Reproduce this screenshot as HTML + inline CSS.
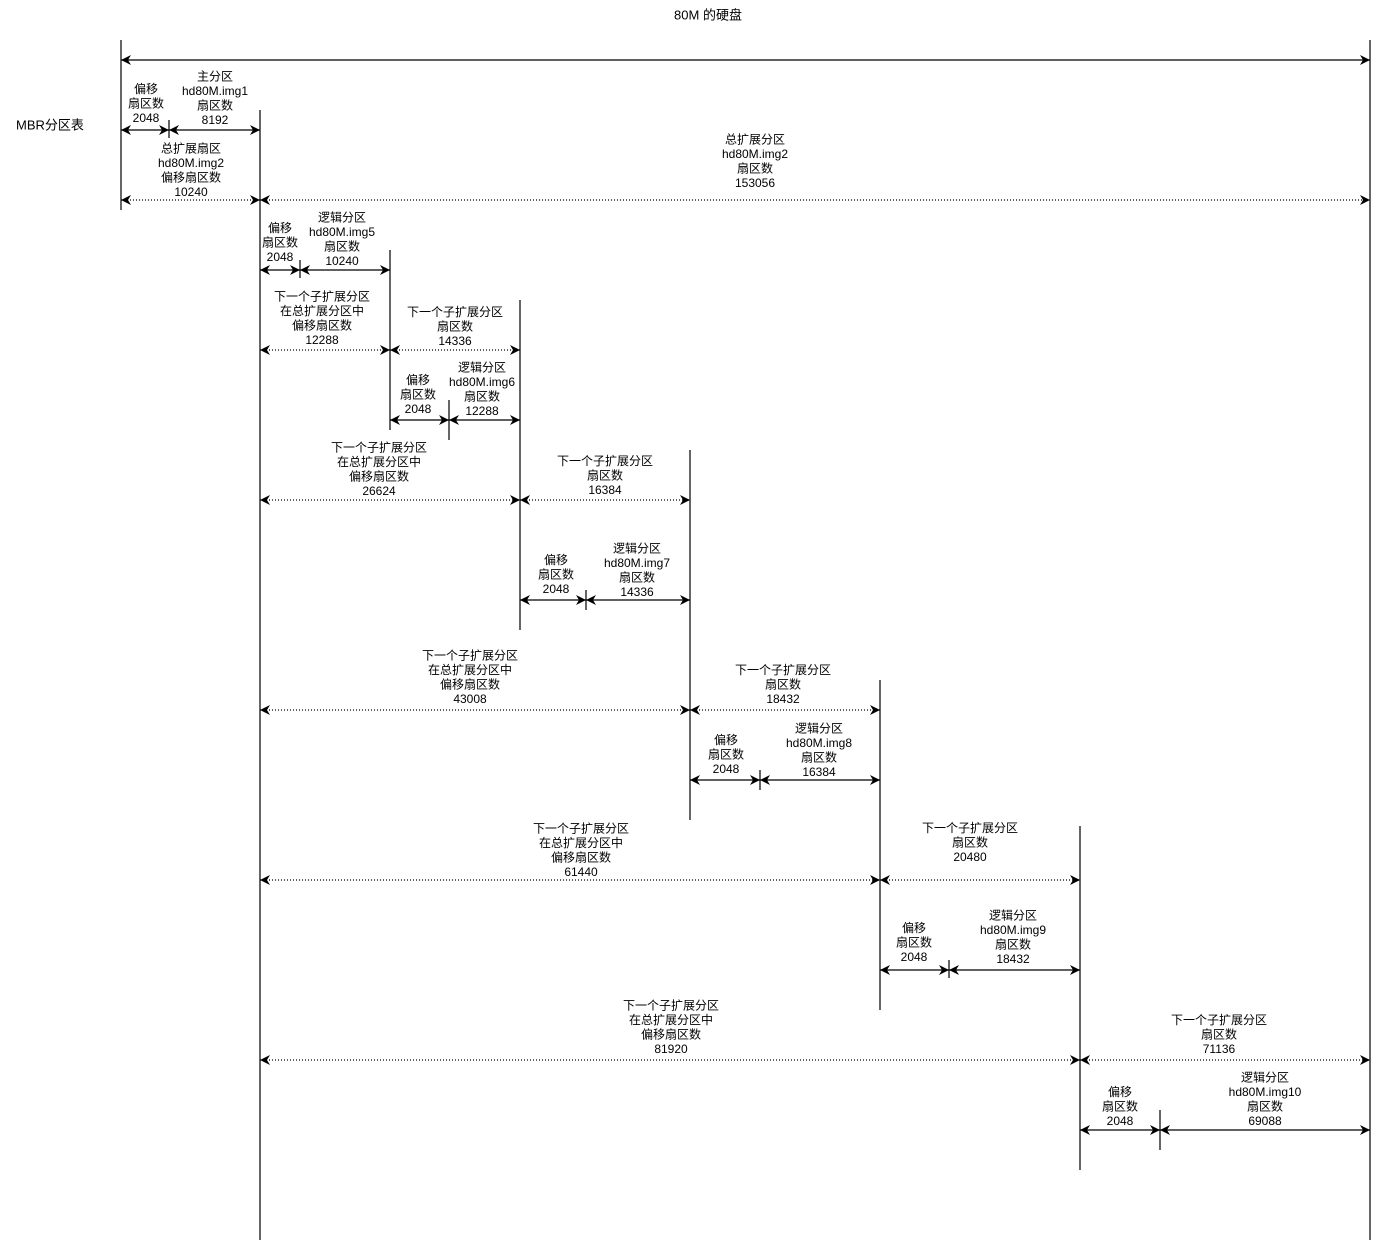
<!DOCTYPE html>
<html><head><meta charset="utf-8"><style>
html,body{margin:0;padding:0;background:#fff;}
svg{display:block;}
text{font-family:"Liberation Sans","Noto Sans CJK SC",sans-serif;font-size:12px;fill:#000;text-anchor:middle;dominant-baseline:central;}
</style></head><body>
<svg width="1380" height="1242" viewBox="0 0 1380 1242" xmlns="http://www.w3.org/2000/svg">
<defs>
<marker id="a" viewBox="0 0 10 10" refX="10" refY="5" markerWidth="10" markerHeight="10" markerUnits="userSpaceOnUse" orient="auto-start-reverse">
<path d="M0,0 L10,5 L0,10 L3,5 Z" fill="#000"/>
</marker>
</defs>
<g stroke="#000" stroke-width="1.2" fill="none">
<line x1="121" y1="40" x2="121" y2="210"/>
<line x1="1370" y1="40" x2="1370" y2="1240"/>
<line x1="260" y1="110" x2="260" y2="1240"/>
<line x1="169" y1="120" x2="169" y2="138"/>
<line x1="390" y1="250" x2="390" y2="430"/>
<line x1="300" y1="260" x2="300" y2="278"/>
<line x1="520" y1="300" x2="520" y2="630"/>
<line x1="449" y1="400" x2="449" y2="440"/>
<line x1="690" y1="450" x2="690" y2="820"/>
<line x1="586" y1="590" x2="586" y2="610"/>
<line x1="880" y1="680" x2="880" y2="1010"/>
<line x1="760" y1="770" x2="760" y2="790"/>
<line x1="1080" y1="826" x2="1080" y2="1170"/>
<line x1="949" y1="960" x2="949" y2="978"/>
<line x1="1160" y1="1110" x2="1160" y2="1150"/>
</g>
<g stroke="#000" stroke-width="1.2" marker-start="url(#a)" marker-end="url(#a)">
<line x1="121" y1="60" x2="1370" y2="60"/>
<line x1="121" y1="130" x2="169" y2="130"/>
<line x1="169" y1="130" x2="260" y2="130"/>
<line x1="260" y1="270" x2="300" y2="270"/>
<line x1="300" y1="270" x2="390" y2="270"/>
<line x1="390" y1="420" x2="449" y2="420"/>
<line x1="449" y1="420" x2="520" y2="420"/>
<line x1="520" y1="600" x2="586" y2="600"/>
<line x1="586" y1="600" x2="690" y2="600"/>
<line x1="690" y1="780" x2="760" y2="780"/>
<line x1="760" y1="780" x2="880" y2="780"/>
<line x1="880" y1="970" x2="949" y2="970"/>
<line x1="949" y1="970" x2="1080" y2="970"/>
<line x1="1080" y1="1130" x2="1160" y2="1130"/>
<line x1="1160" y1="1130" x2="1370" y2="1130"/>
</g>
<g stroke="#000" stroke-width="1.2" stroke-dasharray="1,2" marker-start="url(#a)" marker-end="url(#a)">
<line x1="121" y1="200" x2="260" y2="200"/>
<line x1="260" y1="200" x2="1370" y2="200"/>
<line x1="260" y1="350" x2="390" y2="350"/>
<line x1="390" y1="350" x2="520" y2="350"/>
<line x1="260" y1="500" x2="520" y2="500"/>
<line x1="520" y1="500" x2="690" y2="500"/>
<line x1="260" y1="710" x2="690" y2="710"/>
<line x1="690" y1="710" x2="880" y2="710"/>
<line x1="260" y1="880" x2="880" y2="880"/>
<line x1="880" y1="880" x2="1080" y2="880"/>
<line x1="260" y1="1060" x2="1080" y2="1060"/>
<line x1="1080" y1="1060" x2="1370" y2="1060"/>
</g>
<text x="708" y="15" style="font-size:13px">80M 的硬盘</text>
<text x="50" y="125" style="font-size:13px">MBR分区表</text>

<text x="146" y="89">偏移</text><text x="146" y="103.5">扇区数</text><text x="146" y="118">2048</text>
<text x="215" y="76.5">主分区</text><text x="215" y="91">hd80M.img1</text><text x="215" y="105.5">扇区数</text><text x="215" y="120">8192</text>
<text x="191" y="148.5">总扩展扇区</text><text x="191" y="163">hd80M.img2</text><text x="191" y="177.5">偏移扇区数</text><text x="191" y="192">10240</text>
<text x="755" y="139.5">总扩展分区</text><text x="755" y="154">hd80M.img2</text><text x="755" y="168.5">扇区数</text><text x="755" y="183">153056</text>

<text x="280" y="228">偏移</text><text x="280" y="242.5">扇区数</text><text x="280" y="257">2048</text>
<text x="342" y="217.5">逻辑分区</text><text x="342" y="232">hd80M.img5</text><text x="342" y="246.5">扇区数</text><text x="342" y="261">10240</text>
<text x="322" y="296.5">下一个子扩展分区</text><text x="322" y="311">在总扩展分区中</text><text x="322" y="325.5">偏移扇区数</text><text x="322" y="340">12288</text>
<text x="455" y="312">下一个子扩展分区</text><text x="455" y="326.5">扇区数</text><text x="455" y="341">14336</text>
<text x="418" y="380">偏移</text><text x="418" y="394.5">扇区数</text><text x="418" y="409">2048</text>
<text x="482" y="367.5">逻辑分区</text><text x="482" y="382">hd80M.img6</text><text x="482" y="396.5">扇区数</text><text x="482" y="411">12288</text>

<text x="379" y="447.5">下一个子扩展分区</text><text x="379" y="462">在总扩展分区中</text><text x="379" y="476.5">偏移扇区数</text><text x="379" y="491">26624</text>
<text x="605" y="461">下一个子扩展分区</text><text x="605" y="475.5">扇区数</text><text x="605" y="490">16384</text>
<text x="556" y="560">偏移</text><text x="556" y="574.5">扇区数</text><text x="556" y="589">2048</text>
<text x="637" y="548.5">逻辑分区</text><text x="637" y="563">hd80M.img7</text><text x="637" y="577.5">扇区数</text><text x="637" y="592">14336</text>

<text x="470" y="655.5">下一个子扩展分区</text><text x="470" y="670">在总扩展分区中</text><text x="470" y="684.5">偏移扇区数</text><text x="470" y="699">43008</text>
<text x="783" y="670">下一个子扩展分区</text><text x="783" y="684.5">扇区数</text><text x="783" y="699">18432</text>
<text x="726" y="740">偏移</text><text x="726" y="754.5">扇区数</text><text x="726" y="769">2048</text>
<text x="819" y="728.5">逻辑分区</text><text x="819" y="743">hd80M.img8</text><text x="819" y="757.5">扇区数</text><text x="819" y="772">16384</text>

<text x="581" y="828.5">下一个子扩展分区</text><text x="581" y="843">在总扩展分区中</text><text x="581" y="857.5">偏移扇区数</text><text x="581" y="872">61440</text>
<text x="970" y="828">下一个子扩展分区</text><text x="970" y="842.5">扇区数</text><text x="970" y="857">20480</text>
<text x="914" y="928">偏移</text><text x="914" y="942.5">扇区数</text><text x="914" y="957">2048</text>
<text x="1013" y="915.5">逻辑分区</text><text x="1013" y="930">hd80M.img9</text><text x="1013" y="944.5">扇区数</text><text x="1013" y="959">18432</text>

<text x="671" y="1005.5">下一个子扩展分区</text><text x="671" y="1020">在总扩展分区中</text><text x="671" y="1034.5">偏移扇区数</text><text x="671" y="1049">81920</text>
<text x="1219" y="1020">下一个子扩展分区</text><text x="1219" y="1034.5">扇区数</text><text x="1219" y="1049">71136</text>
<text x="1120" y="1092">偏移</text><text x="1120" y="1106.5">扇区数</text><text x="1120" y="1121">2048</text>
<text x="1265" y="1077.5">逻辑分区</text><text x="1265" y="1092">hd80M.img10</text><text x="1265" y="1106.5">扇区数</text><text x="1265" y="1121">69088</text>
</svg>
</body></html>
